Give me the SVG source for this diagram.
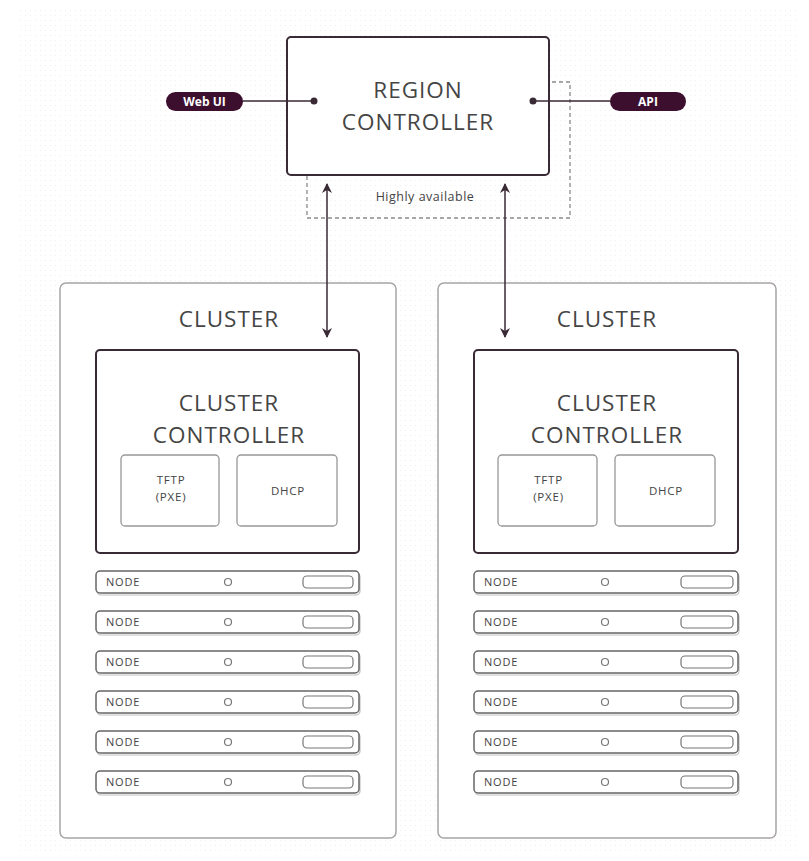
<svg xmlns="http://www.w3.org/2000/svg" width="809" height="861" viewBox="0 0 809 861">
<defs>
<pattern id="grid" width="5" height="5" patternUnits="userSpaceOnUse">
<rect x="0" y="0" width="1" height="1" fill="#efefef"/>
</pattern>
<marker id="ah" viewBox="0 0 10 10" refX="9" refY="5" markerWidth="10" markerHeight="10" markerUnits="userSpaceOnUse" orient="auto-start-reverse">
<path d="M0,0 L10,5 L0,10 L3,5 Z" fill="#3a2a35"/>
</marker>
</defs>
<style>
.big{font-family:"Open Sans","Noto Sans",sans-serif;font-size:22.5px;letter-spacing:1px;fill:#454545;text-anchor:middle;font-weight:400}
.sm{font-family:"Open Sans","Noto Sans",sans-serif;font-size:11.5px;letter-spacing:0.8px;fill:#444;text-anchor:middle}
.ha{font-family:"Open Sans","Noto Sans",sans-serif;font-size:12.5px;letter-spacing:0.5px;fill:#444;text-anchor:middle}
.nd{font-family:"Open Sans","Noto Sans",sans-serif;font-size:11px;letter-spacing:0.8px;fill:#444}
.pill{fill:#3d0f2e}
.pt{font-family:"Open Sans","Noto Sans",sans-serif;font-size:12px;font-weight:bold;fill:#fff;text-anchor:middle}
.ctrl{fill:#fff;stroke:#3a2a35;stroke-width:2}
.clu{fill:#fff;stroke:#a8a4a6;stroke-width:1.5}
.svc{fill:#fff;stroke:#9a9698;stroke-width:1.3}
.row{fill:#fff;stroke:#666;stroke-width:1.5}
.sh{fill:none;stroke:#c4c0c2;stroke-width:1.2}
.led{fill:#fff;stroke:#777;stroke-width:1.2}
.conn{stroke:#3a2a35;stroke-width:1.5;fill:none}
</style>
<rect width="809" height="861" fill="#fff"/>
<rect x="18" y="6" width="782" height="846" fill="url(#grid)"/>

<g id="clusters">
<g id="cluster-left">
<rect class="clu" x="60" y="283" width="336" height="555" rx="6"/>
<text class="big" x="229" y="327">CLUSTER</text>
</g>
<g id="cluster-right">
<rect class="clu" x="438" y="283" width="338" height="555" rx="6"/>
<text class="big" x="607" y="327">CLUSTER</text>
</g>
</g>

<g id="ha">
<rect x="307" y="82" width="263" height="136" fill="none" stroke="#8a8a8a" stroke-width="1.3" stroke-dasharray="4 3"/>
<text class="ha" x="425" y="201">Highly available</text>
</g>

<g id="region-controller">
<rect class="ctrl" x="287" y="37" width="262" height="138" rx="4"/>
<text class="big" x="418" y="98">REGION</text>
<text class="big" x="418" y="130">CONTROLLER</text>
</g>

<g id="webui">
<rect class="pill" x="166" y="92" width="77" height="19" rx="9.5"/>
<text class="pt" x="204.5" y="106">Web UI</text>
</g>
<g id="api">
<rect class="pill" x="610" y="92" width="76" height="19" rx="9.5"/>
<text class="pt" x="648" y="106">API</text>
</g>

<g id="cc-left">
<rect class="ctrl" x="96" y="350" width="263" height="203" rx="4"/>
<text class="big" x="229" y="411">CLUSTER</text>
<text class="big" x="229" y="443">CONTROLLER</text>
<g id="tftp-left"><rect class="svc" x="121" y="455" width="98" height="71" rx="4"/>
<text class="sm" x="171" y="484">TFTP</text><text class="sm" x="171" y="501">(PXE)</text></g>
<g id="dhcp-left"><rect class="svc" x="237" y="455" width="100" height="71" rx="4"/>
<text class="sm" x="288" y="495">DHCP</text></g>
</g>
<g id="cc-right">
<rect class="ctrl" x="474" y="350" width="264" height="203" rx="4"/>
<text class="big" x="607" y="411">CLUSTER</text>
<text class="big" x="607" y="443">CONTROLLER</text>
<g id="tftp-right"><rect class="svc" x="498" y="455" width="99" height="71" rx="4"/>
<text class="sm" x="548.5" y="484">TFTP</text><text class="sm" x="548.5" y="501">(PXE)</text></g>
<g id="dhcp-right"><rect class="svc" x="615" y="455" width="100" height="71" rx="4"/>
<text class="sm" x="666" y="495">DHCP</text></g>
</g>

<g id="nodes-left">
<g id="nl1"><rect class="sh" x="97" y="573" width="263" height="22" rx="4"/><rect class="row" x="96" y="571" width="263" height="22" rx="4"/><text class="nd" x="106" y="586">NODE</text><circle class="led" cx="228" cy="582" r="3.5"/><rect class="led" x="303" y="576" width="50" height="12" rx="4"/></g>
<g id="nl2"><rect class="sh" x="97" y="613" width="263" height="22" rx="4"/><rect class="row" x="96" y="611" width="263" height="22" rx="4"/><text class="nd" x="106" y="626">NODE</text><circle class="led" cx="228" cy="622" r="3.5"/><rect class="led" x="303" y="616" width="50" height="12" rx="4"/></g>
<g id="nl3"><rect class="sh" x="97" y="653" width="263" height="22" rx="4"/><rect class="row" x="96" y="651" width="263" height="22" rx="4"/><text class="nd" x="106" y="666">NODE</text><circle class="led" cx="228" cy="662" r="3.5"/><rect class="led" x="303" y="656" width="50" height="12" rx="4"/></g>
<g id="nl4"><rect class="sh" x="97" y="693" width="263" height="22" rx="4"/><rect class="row" x="96" y="691" width="263" height="22" rx="4"/><text class="nd" x="106" y="706">NODE</text><circle class="led" cx="228" cy="702" r="3.5"/><rect class="led" x="303" y="696" width="50" height="12" rx="4"/></g>
<g id="nl5"><rect class="sh" x="97" y="733" width="263" height="22" rx="4"/><rect class="row" x="96" y="731" width="263" height="22" rx="4"/><text class="nd" x="106" y="746">NODE</text><circle class="led" cx="228" cy="742" r="3.5"/><rect class="led" x="303" y="736" width="50" height="12" rx="4"/></g>
<g id="nl6"><rect class="sh" x="97" y="773" width="263" height="22" rx="4"/><rect class="row" x="96" y="771" width="263" height="22" rx="4"/><text class="nd" x="106" y="786">NODE</text><circle class="led" cx="228" cy="782" r="3.5"/><rect class="led" x="303" y="776" width="50" height="12" rx="4"/></g>
</g>
<g id="nodes-right">
<g id="nr1"><rect class="sh" x="475" y="573" width="264" height="22" rx="4"/><rect class="row" x="474" y="571" width="264" height="22" rx="4"/><text class="nd" x="484" y="586">NODE</text><circle class="led" cx="605" cy="582" r="3.5"/><rect class="led" x="681" y="576" width="52" height="12" rx="4"/></g>
<g id="nr2"><rect class="sh" x="475" y="613" width="264" height="22" rx="4"/><rect class="row" x="474" y="611" width="264" height="22" rx="4"/><text class="nd" x="484" y="626">NODE</text><circle class="led" cx="605" cy="622" r="3.5"/><rect class="led" x="681" y="616" width="52" height="12" rx="4"/></g>
<g id="nr3"><rect class="sh" x="475" y="653" width="264" height="22" rx="4"/><rect class="row" x="474" y="651" width="264" height="22" rx="4"/><text class="nd" x="484" y="666">NODE</text><circle class="led" cx="605" cy="662" r="3.5"/><rect class="led" x="681" y="656" width="52" height="12" rx="4"/></g>
<g id="nr4"><rect class="sh" x="475" y="693" width="264" height="22" rx="4"/><rect class="row" x="474" y="691" width="264" height="22" rx="4"/><text class="nd" x="484" y="706">NODE</text><circle class="led" cx="605" cy="702" r="3.5"/><rect class="led" x="681" y="696" width="52" height="12" rx="4"/></g>
<g id="nr5"><rect class="sh" x="475" y="733" width="264" height="22" rx="4"/><rect class="row" x="474" y="731" width="264" height="22" rx="4"/><text class="nd" x="484" y="746">NODE</text><circle class="led" cx="605" cy="742" r="3.5"/><rect class="led" x="681" y="736" width="52" height="12" rx="4"/></g>
<g id="nr6"><rect class="sh" x="475" y="773" width="264" height="22" rx="4"/><rect class="row" x="474" y="771" width="264" height="22" rx="4"/><text class="nd" x="484" y="786">NODE</text><circle class="led" cx="605" cy="782" r="3.5"/><rect class="led" x="681" y="776" width="52" height="12" rx="4"/></g>
</g>

<g id="connectors">
<line class="conn" x1="243" y1="101" x2="314" y2="101"/>
<circle cx="314" cy="101" r="3.5" fill="#3a2a35"/>
<line class="conn" x1="533" y1="101" x2="610" y2="101"/>
<circle cx="533" cy="101" r="3.5" fill="#3a2a35"/>
<line class="conn" x1="327" y1="184" x2="327" y2="337" marker-start="url(#ah)" marker-end="url(#ah)"/>
<line class="conn" x1="505" y1="184" x2="505" y2="337" marker-start="url(#ah)" marker-end="url(#ah)"/>
</g>
</svg>
